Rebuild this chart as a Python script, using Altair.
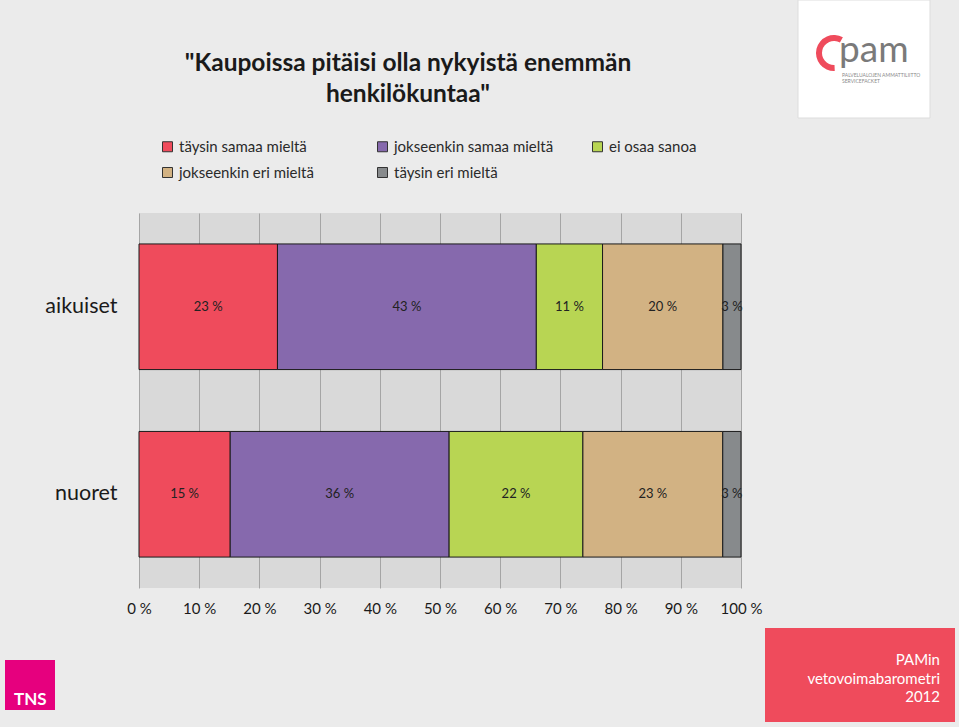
import altair as alt
import pandas as pd

groups = ["aikuiset", "nuoret"]
categories = ["täysin samaa mieltä", "jokseenkin samaa mieltä", "ei osaa sanoa",
              "jokseenkin eri mieltä", "täysin eri mieltä"]
colors = ["#ef4b5c", "#8669ad", "#b8d553", "#d2b283", "#878a8c"]
aikuiset_values = [23, 43, 11, 20, 3]
nuoret_values = [15, 36, 22, 23, 3]
x_ticks = [0, 0.1, 0.2, 0.3, 0.4, 0.5, 0.6, 0.7, 0.8, 0.9, 1.0]

rows = []
for g, vals in zip(groups, [aikuiset_values, nuoret_values]):
    for i, (c, v) in enumerate(zip(categories, vals)):
        rows.append({"group": g, "category": c, "value": v, "order": i})
df = pd.DataFrame(rows)

FONT = "Lato"
W, H = 602, 375
LEFT, TOP = 139, 213

base = alt.Chart(df).transform_stack(
    stack="value", as_=["x0", "x1"], groupby=["group"],
    sort=[alt.SortField("order", order="ascending")], offset="normalize"
).transform_calculate(
    mid="(datum.x0 + datum.x1) / 2",
    label="datum.value + ' %'"
)

y_enc = alt.Y("group:N", sort=groups, title=None,
              scale=alt.Scale(paddingInner=0.33, paddingOuter=0.165),
              axis=alt.Axis(ticks=False, domain=False, labelFontSize=21.5, labelFont=FONT,
                            labelColor="#1a1a1a", labelPadding=22))

bars = base.mark_bar(stroke="#1a1a1a", strokeWidth=1).encode(
    x=alt.X("x0:Q", title=None, scale=alt.Scale(domain=[0, 1], nice=False),
            axis=alt.Axis(values=x_ticks, labelExpr="round(datum.value * 100) + ' %'",
                          grid=True, gridColor="#a5a5a5", gridWidth=1, ticks=False,
                          domain=False, labelFontSize=15, labelFont=FONT, labelFlush=False,
                          labelOverlap=False,
                          labelColor="#1a1a1a", labelPadding=13)),
    x2="x1:Q",
    y=y_enc,
    color=alt.Color("category:N", scale=alt.Scale(domain=categories, range=colors),
                    legend=alt.Legend(title=None, orient="none", legendX=21, legendY=-74,
                                      direction="horizontal",
                                      columns=3, columnPadding=36, rowPadding=10,
                                      symbolType="square", symbolSize=100,
                                      symbolStrokeColor="#333333", symbolStrokeWidth=1,
                                      labelFontSize=15, labelFont=FONT, labelColor="#2a2a2a",
                                      labelOffset=4, gridAlign="all", padding=0,
                                      labelLimit=300)),
    order=alt.Order("order:Q")
)

labels = base.mark_text(fontSize=13, font=FONT, color="#222222").encode(
    x=alt.X("mid:Q"),
    y=alt.Y("group:N", sort=groups),
    text="label:N"
)

one = alt.Data(values=[{"k": 1}])

title = alt.Chart(one).mark_text(
    text=["\"Kaupoissa pitäisi olla nykyistä enemmän", "henkilökuntaa\""],
    fontSize=24.5, fontWeight="bold", font=FONT, color="#1a1a1a",
    align="center", baseline="alphabetic", lineHeight=31
).encode(x=alt.value(408 - LEFT), y=alt.value(71 - TOP))

red_box = alt.Chart(one).mark_rect(color="#ef4b5c").encode(
    x=alt.value(765 - LEFT), x2=alt.value(955 - LEFT),
    y=alt.value(628 - TOP), y2=alt.value(722 - TOP))
red_text = alt.Chart(one).mark_text(
    text=["PAMin", "vetovoimabarometri", "2012"], fontSize=15, font=FONT,
    color="white", align="right", baseline="middle", lineHeight=18.5
).encode(x=alt.value(940 - LEFT), y=alt.value(660 - TOP))

tns_box = alt.Chart(one).mark_rect(color="#e6007e").encode(
    x=alt.value(5 - LEFT), x2=alt.value(55 - LEFT),
    y=alt.value(660 - TOP), y2=alt.value(710 - TOP))
tns_text = alt.Chart(one).mark_text(
    text="TNS", fontSize=17, fontWeight="bold", font=FONT, color="white",
    align="left", baseline="alphabetic"
).encode(x=alt.value(14 - LEFT), y=alt.value(705 - TOP))

pam_card = alt.Chart(one).mark_rect(color="white", stroke="#dddddd").encode(
    x=alt.value(798 - LEFT), x2=alt.value(930 - LEFT),
    y=alt.value(0 - TOP), y2=alt.value(118 - TOP))
pam_arc = alt.Chart(one).mark_arc(color="#ef4b5c", theta=3.1, theta2=6.8,
                                  radius=18, radius2=12).encode(
    x=alt.value(834 - LEFT), y=alt.value(53 - TOP))
pam_text = alt.Chart(one).mark_text(
    text="pam", fontSize=37, font=FONT, color="#7a7a7a", align="left",
    baseline="alphabetic"
).encode(x=alt.value(839 - LEFT), y=alt.value(62 - TOP))
pam_small = alt.Chart(one).mark_text(
    text=["PALVELUALOJEN AMMATTILIITTO", "SERVICEFACKET"], fontSize=5, font=FONT,
    color="#8a8a8a", align="left", baseline="top", lineHeight=6
).encode(x=alt.value(842 - LEFT), y=alt.value(73 - TOP))

chart = alt.layer(
    pam_card, pam_arc, pam_text, pam_small, tns_box, tns_text, red_box, red_text,
    title, bars, labels
).properties(
    width=W, height=H,
    autosize=alt.AutoSizeParams(type="none"),
    padding={"left": LEFT, "top": TOP, "right": 959 - LEFT - W, "bottom": 727 - TOP - H},
    background="#ebebeb"
).configure_view(stroke=None, fill="#d9d9d9")

chart.save("out.html", embed_options={"renderer": "svg", "actions": False})
